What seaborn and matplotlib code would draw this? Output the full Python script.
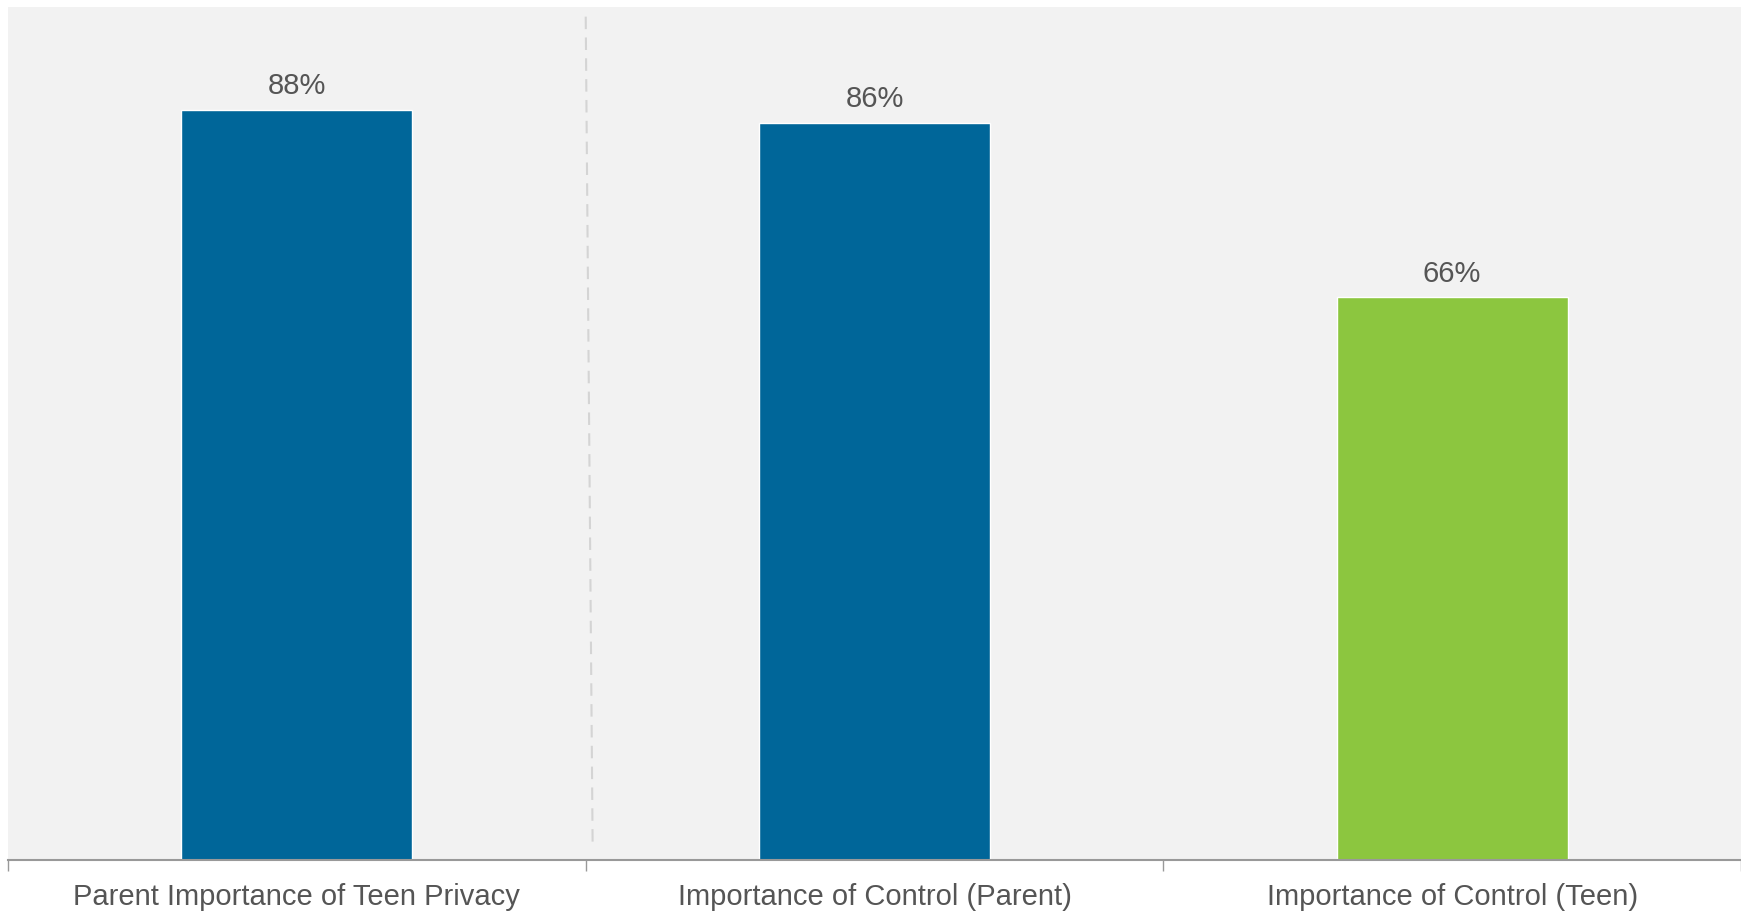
import pandas as pd
import seaborn as sns
import matplotlib.pyplot as plt

categories = ["Parent Importance of Teen Privacy", "Importance of Control (Parent)", "Importance of Control (Teen)"]
values = [88, 86.4, 66]
colors = ["#006699", "#006699", "#8cc63f"]

df = pd.DataFrame({"Category": categories, "Value": values})

sns.set_style("white")
plt.rcParams["font.family"] = ["Liberation Sans", "DejaVu Sans"]

fig = plt.figure(figsize=(17.41, 9.12), dpi=100)
ax = fig.add_axes([0.0046, 0.0555, 0.9954, 0.9355])
ax.set_facecolor("#f2f2f2")

sns.barplot(data=df, x="Category", y="Value", hue="Category", palette=colors,
            width=0.4, saturation=1, legend=False, ax=ax)

for i, v in enumerate(values):
    ax.text(i, v + 2.9, f"{v:.0f}%", ha="center", va="center", fontsize=21, color="#555555")

# dashed divider between first group and the rest
ax.plot([0.512, 0.5], [2.2, 99.6], color="#d4d4d4", linestyle=(0, (6, 4)), linewidth=1.5)

ax.set_xlim(-0.5, 2.5)
ax.set_ylim(0, 100)
ax.set_xticks([-0.5, 0.5, 1.5, 2.5], minor=False)
ax.set_xticklabels([])
ax.set_xticks([0, 1, 2], minor=True)
ax.set_xticklabels(categories, minor=True)
ax.tick_params(axis="x", which="major", bottom=True, length=8, width=1, color="#999999", direction="out")
ax.tick_params(axis="x", which="minor", bottom=True, length=0, pad=15.5, labelsize=21, labelcolor="#555555")
ax.set_yticks([])
ax.set_xlabel("")
ax.set_ylabel("")

for side in ["top", "right", "left"]:
    ax.spines[side].set_visible(False)
ax.spines["bottom"].set_color("#999999")
ax.spines["bottom"].set_linewidth(1.5)

plt.savefig("out.png", dpi=100)
plt.close()
